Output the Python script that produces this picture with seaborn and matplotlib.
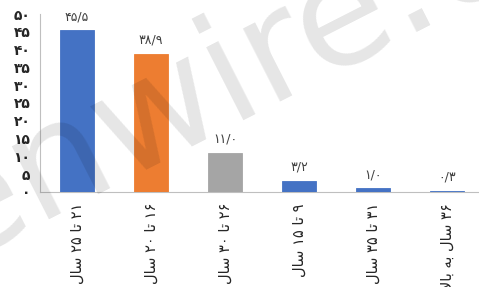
import matplotlib
matplotlib.use("Agg")
import matplotlib.pyplot as plt
from matplotlib.ticker import FixedLocator
import seaborn as sns

# data (age groups, percent)
categories = ["۲۱ تا ۲۵ سال", "۱۶ تا ۲۰ سال", "۲۶ تا ۳۰ سال",
              "۹ تا ۱۵ سال", "۳۱ تا ۳۵ سال", "۳۶ سال به بالا"]
values = [45.5, 38.9, 11.0, 3.2, 1.0, 0.3]
bar_colors = ["#4472C4", "#ED7D31", "#A5A5A5", "#4472C4", "#4472C4", "#4472C4"]
yticks = [0, 5, 10, 15, 20, 25, 30, 35, 40, 45, 50]

FA_DIGITS = str.maketrans("0123456789", "۰۱۲۳۴۵۶۷۸۹")

# matplotlib has no arabic shaping, so pick presentation forms by hand
# (isolated, final, initial, medial)
FORMS = {
    "ا": ("\uFE8D", "\uFE8E", None, None),
    "ب": ("\uFE8F", "\uFE90", "\uFE91", "\uFE92"),
    "ت": ("\uFE95", "\uFE96", "\uFE97", "\uFE98"),
    "س": ("\uFEB1", "\uFEB2", "\uFEB3", "\uFEB4"),
    "ل": ("\uFEDD", "\uFEDE", "\uFEDF", "\uFEE0"),
    "ه": ("\uFEE9", "\uFEEA", "\uFEEB", "\uFEEC"),
}


def shape_word(word):
    out = []
    i = 0
    prev_joins = False
    while i < len(word):
        ch = word[i]
        if ch == "ل" and i + 1 < len(word) and word[i + 1] == "ا":
            out.append("\uFEFC" if prev_joins else "\uFEFB")
            prev_joins = False
            i += 2
            continue
        iso, fin, ini, med = FORMS[ch]
        next_ok = i + 1 < len(word) and ini is not None
        if prev_joins and next_ok:
            out.append(med)
        elif prev_joins:
            out.append(fin)
        elif next_ok:
            out.append(ini)
        else:
            out.append(iso)
        prev_joins = next_ok
        i += 1
    return "".join(reversed(out))


def to_visual(text):
    # right-to-left: reverse word order, digits stay as they are
    words = []
    for w in text.split(" "):
        if w[0] in "۰۱۲۳۴۵۶۷۸۹":
            words.append(w)
        else:
            words.append(shape_word(w))
    return " ".join(reversed(words))


sns.set_style("white")
plt.rcParams["font.family"] = ["DejaVu Sans"]

fig = plt.figure(figsize=(4.79, 2.87), dpi=100)
ax = fig.add_axes([40 / 479, 1 - 192 / 287, 444 / 479, 178 / 287])

sns.barplot(x=list(range(len(values))), y=values, hue=list(range(len(values))),
            palette=bar_colors, legend=False, width=0.46, saturation=1, ax=ax,
            zorder=3)
# thin edge in the bar colour so the smallest bar still shows
for p in ax.patches:
    p.set_edgecolor(p.get_facecolor())
    p.set_linewidth(0.6)

ax.set_xlim(-0.5, len(values) - 0.5)
ax.set_ylim(0, 50)
ax.set_yticks(yticks)
ax.set_yticklabels([str(t).translate(FA_DIGITS) for t in yticks],
                   fontsize=10, fontweight="bold", color="#262626")
ax.set_xticks(range(len(categories)))
ax.set_xticklabels([to_visual(c) for c in categories], rotation=90,
                   fontsize=10.5, color="#262626")
ax.xaxis.set_minor_locator(FixedLocator([i + 0.5 for i in range(len(values) - 1)]))
ax.tick_params(axis="x", which="major", length=0, pad=8)
ax.tick_params(axis="x", which="minor", length=5, color="#bfbfbf", width=0.8)
ax.tick_params(axis="y", length=4, color="#bfbfbf", width=0.8, pad=3)

for side in ["top", "right"]:
    ax.spines[side].set_visible(False)
for side in ["left", "bottom"]:
    ax.spines[side].set_color("#bfbfbf")
    ax.spines[side].set_linewidth(0.8)
    ax.spines[side].set_zorder(2)

labels = [f"{v:.1f}".replace(".", "/").translate(FA_DIGITS) for v in values]
for cont, lab in zip(ax.containers, labels):
    ax.bar_label(cont, labels=[lab], padding=5, fontsize=9, color="#404040")

# watermark
fig.text(0.54, 0.785, "enwire.co", fontsize=108, color="black", alpha=0.1,
         rotation=27, ha="center", va="center", family="DejaVu Sans")

fig.savefig("out.png", dpi=100)
